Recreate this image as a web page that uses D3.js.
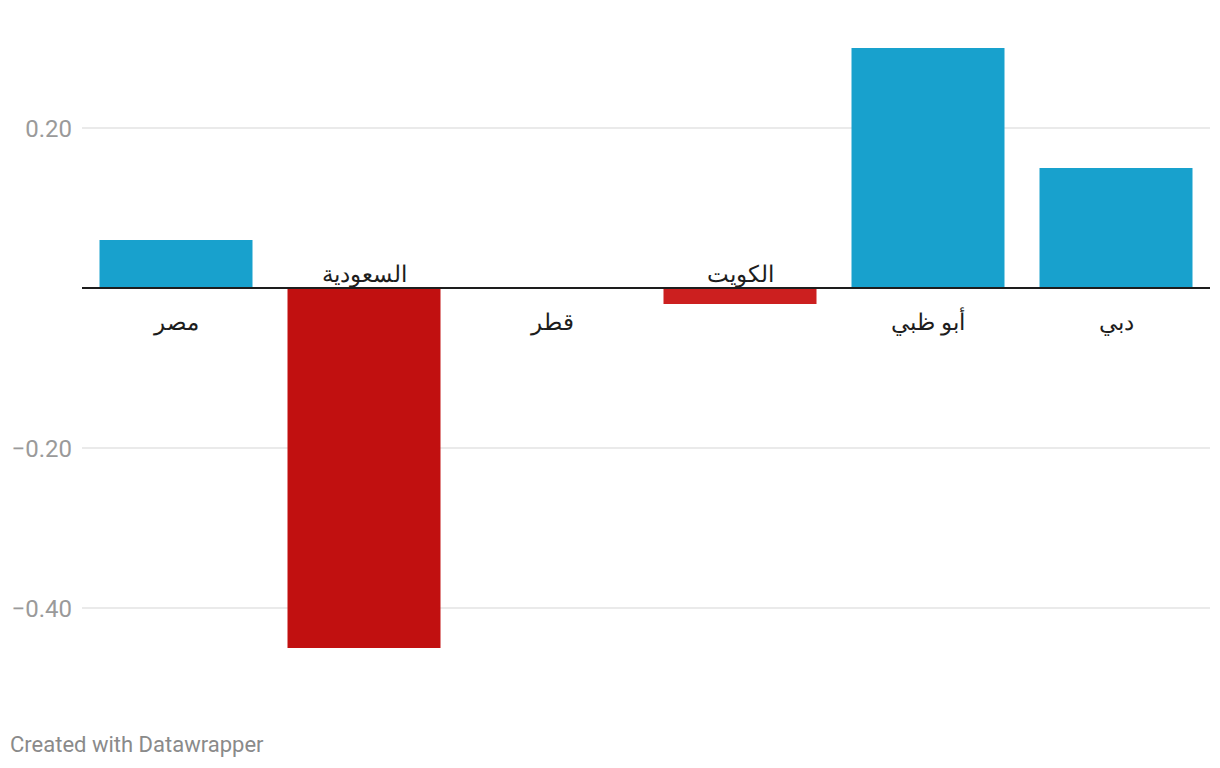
<!DOCTYPE html>
<html><head><meta charset="utf-8">
<script src="https://cdn.jsdelivr.net/npm/d3@7"></script>
<style>body{margin:0;background:#fff;} svg{display:block;font-family:Roboto,"Noto Sans",sans-serif;}</style>
</head><body><svg id="c" width="1220" height="768"></svg>
<script>
const categories = ["مصر","السعودية","قطر","الكويت","أبو ظبي","دبي"];
const values = [0.06,-0.45,0,-0.02,0.30,0.15];
const barColors = ["#18a1cd","#c11010","#18a1cd","#cc1f1f","#18a1cd","#18a1cd"];
const tickValues = [-0.4,-0.2,0.2];
const tickLabels = ["−0.40","−0.20","0.20"];

const svg = d3.select("#c");
const x = d3.scaleBand().domain(categories).range([82,1210]).paddingInner(35/188).paddingOuter(35/376);
const y = d3.scaleLinear().domain([-0.5,0.3]).range([688,48]);

const grid = svg.append("g");
tickValues.forEach((t,i)=>{
  grid.append("line").attr("x1",82).attr("x2",1210).attr("y1",y(t)).attr("y2",y(t)).attr("stroke","#e3e3e3").attr("stroke-width",1.5);
  grid.append("text").attr("x",72).attr("y",y(t)).attr("dy","0.36em").attr("text-anchor","end").attr("fill","#9a9a9a").attr("font-size",24).text(tickLabels[i]);
});

svg.append("g").selectAll("rect").data(categories).join("rect")
  .attr("x",d=>x(d)).attr("width",x.bandwidth())
  .attr("y",(d,i)=>y(Math.max(0,values[i])))
  .attr("height",(d,i)=>Math.abs(y(values[i])-y(0)))
  .attr("fill",(d,i)=>barColors[i]);

svg.append("line").attr("x1",82).attr("x2",1210).attr("y1",y(0)).attr("y2",y(0)).attr("stroke","#1d1d1d").attr("stroke-width",2);

svg.append("g").selectAll("text").data(categories).join("text")
  .attr("x",d=>x(d)+x.bandwidth()/2)
  .attr("y",(d,i)=>values[i]<0 ? y(0)-6 : y(0)+42)
  .attr("text-anchor","middle").attr("fill","#1d1d1d").attr("font-size",23)
  .attr("direction","rtl")
  .text(d=>d);

svg.append("text").attr("x",10).attr("y",752).attr("fill","#8a8a8a").attr("font-size",22).text("Created with Datawrapper");
</script></body></html>
